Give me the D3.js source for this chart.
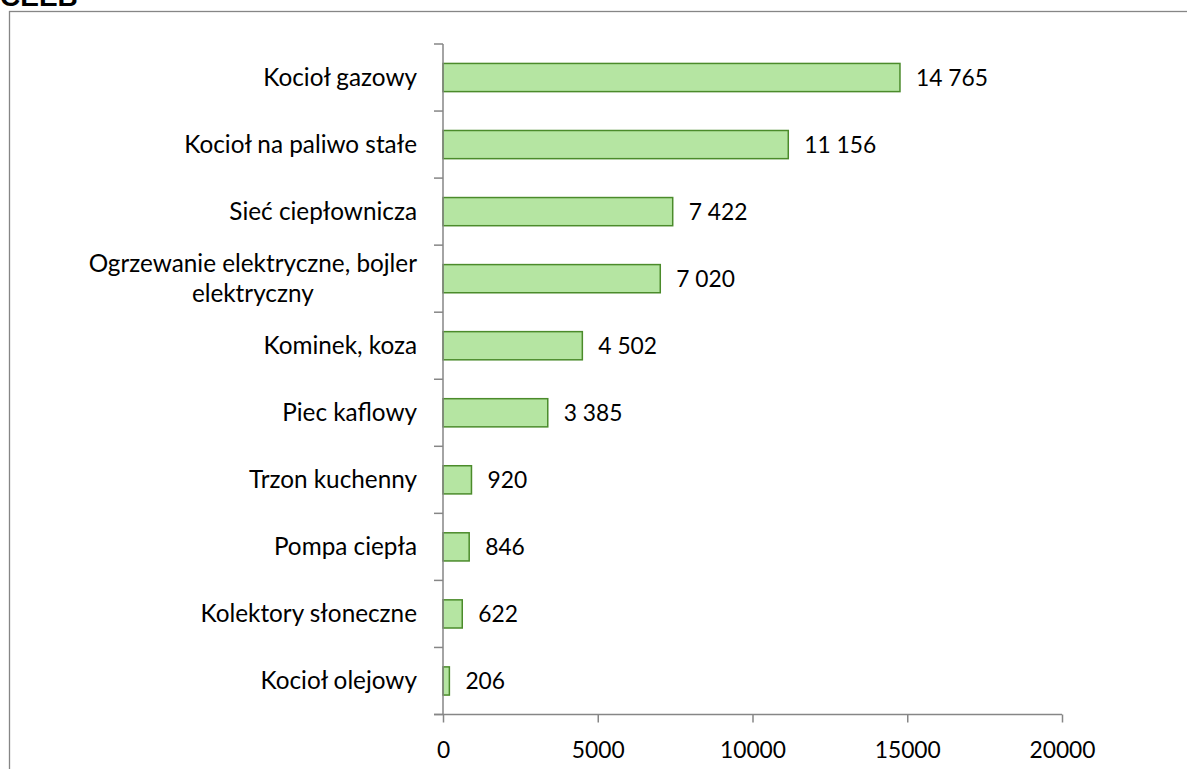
<!DOCTYPE html>
<html>
<head>
<meta charset="utf-8">
<script src="https://cdn.jsdelivr.net/npm/d3@7"></script>
<style>
  body { margin: 0; background: #fff; }
  svg { display: block; }
</style>
</head>
<body>
<div id="chart"></div>
<script>
// Chart data
let categories = ["Kocioł gazowy", "Kocioł na paliwo stałe", "Sieć ciepłownicza",
  "Ogrzewanie elektryczne, bojler elektryczny", "Kominek, koza", "Piec kaflowy",
  "Trzon kuchenny", "Pompa ciepła", "Kolektory słoneczne", "Kocioł olejowy"];
let values = [14765, 11156, 7422, 7020, 4502, 3385, 920, 846, 622, 206];
let xTicks = [0, 5000, 10000, 15000, 20000];
// long label is wrapped in two lines like the original
let labelLines = {"Ogrzewanie elektryczne, bojler elektryczny": ["Ogrzewanie elektryczne, bojler", "elektryczny"]};

let w = 1187;
let h = 769;
let plotLeft = 443, plotRight = 1062, plotTop = 44, plotBottom = 714.5;
let axisColor = "#868686";
let font = "Lato, 'Open Sans', sans-serif";
let labelSize = 24.3;
let numSize = 22.8;

let svg = d3.select("#chart").append("svg")
  .attr("width", w)
  .attr("height", h);

// Heading and chart frame, both clipped by the page edge as in the original
svg.append("text")
  .text("CEEB")
  .attr("x", 0)
  .attr("y", 5.5)
  .attr("font-family", "'Liberation Sans', Arial, sans-serif")
  .attr("font-weight", "bold")
  .attr("font-size", 28);
svg.append("rect")
  .attr("x", 9.5)
  .attr("y", 11.5)
  .attr("width", 1300)
  .attr("height", 900)
  .attr("fill", "none")
  .attr("stroke", axisColor)
  .attr("stroke-width", 1.3);

let xScale = d3.scaleLinear().domain([0, 20000]).range([plotLeft, plotRight]);
let yScale = d3.scaleBand().domain(categories).range([plotTop, plotBottom]).padding(0);
let barH = yScale.bandwidth() * 0.42;

// Bars
svg.selectAll("rect.bar")
  .data(categories)
  .enter()
  .append("rect")
  .classed("bar", true)
  .attr("x", xScale(0))
  .attr("y", d => yScale(d) + (yScale.bandwidth() - barH) / 2)
  .attr("width", (d, i) => xScale(values[i]) - xScale(0))
  .attr("height", barH)
  .attr("fill", "#b5e5a2")
  .attr("stroke", "#4b8b2b")
  .attr("stroke-width", 1.5);

// Value labels with space as thousands separator
let fmt = v => String(v).replace(/\B(?=(\d{3})+(?!\d))/g, " ");
svg.selectAll("text.val")
  .data(categories)
  .enter()
  .append("text")
  .classed("val", true)
  .attr("x", (d, i) => xScale(values[i]) + 16)
  .attr("y", d => yScale(d) + yScale.bandwidth() / 2)
  .attr("dy", "0.36em")
  .attr("font-family", font)
  .attr("font-size", numSize)
  .attr("fill", "#000")
  .text((d, i) => fmt(values[i]));

// Y axis: line with ticks at band edges
let yAxis = svg.append("g").attr("stroke", axisColor).attr("stroke-width", 1.5);
yAxis.append("line")
  .attr("x1", plotLeft).attr("x2", plotLeft)
  .attr("y1", plotTop).attr("y2", plotBottom);
let edges = categories.map(d => yScale(d)).concat([plotBottom]);
yAxis.selectAll("line.tick")
  .data(edges)
  .enter()
  .append("line")
  .attr("x1", plotLeft - 9).attr("x2", plotLeft)
  .attr("y1", d => d).attr("y2", d => d);

// Category labels, right aligned block, wrapped lines centred
let labels = svg.selectAll("text.cat")
  .data(categories)
  .enter()
  .append("text")
  .classed("cat", true)
  .attr("font-family", font)
  .attr("font-size", labelSize)
  .attr("fill", "#000");
labels.each(function(d) {
  let lines = labelLines[d] || [d];
  let t = d3.select(this);
  let cy = yScale(d) + yScale.bandwidth() / 2;
  let lh = 30;
  lines.forEach((ln, k) => {
    t.append("tspan").text(ln)
      .attr("y", cy + (k - (lines.length - 1) / 2) * lh)
      .attr("dy", "0.35em");
  });
  let maxW = d3.max(t.selectAll("tspan").nodes(), n => n.getComputedTextLength());
  let cx = plotLeft - 26 - maxW / 2;
  t.attr("text-anchor", "middle");
  t.selectAll("tspan").attr("x", cx);
});

// X axis
let xAxis = d3.axisBottom(xScale)
  .tickValues(xTicks)
  .tickFormat(d3.format("d"))
  .tickSizeInner(8)
  .tickSizeOuter(0)
  .tickPadding(19);
let gx = svg.append("g")
  .attr("transform", "translate(0," + plotBottom + ")")
  .call(xAxis);
gx.select(".domain").remove();
gx.append("line")
  .attr("x1", plotLeft - 9).attr("x2", plotRight)
  .attr("stroke", axisColor).attr("stroke-width", 1.5);
gx.selectAll(".tick line").attr("stroke", axisColor).attr("stroke-width", 1.5);
gx.selectAll(".tick text")
  .attr("font-family", font)
  .attr("font-size", numSize)
  .attr("fill", "#000");
</script>
</body>
</html>
